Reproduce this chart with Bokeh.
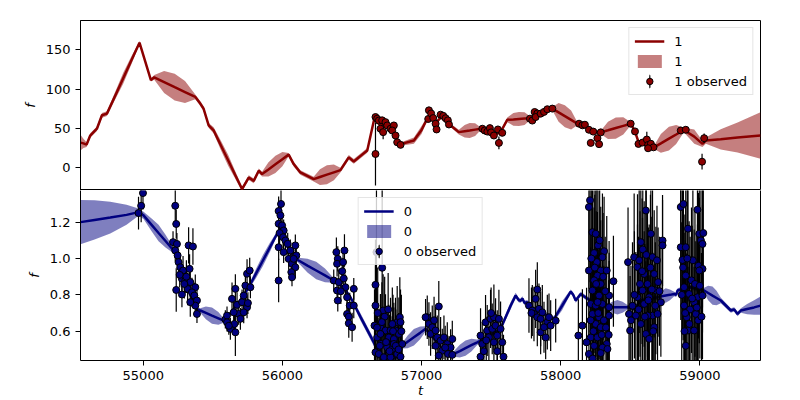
import numpy as np
from bokeh.plotting import figure
from bokeh.layouts import column
from bokeh.models import ColumnDataSource, FixedTicker, Legend, LegendItem, Range1d, LinearAxis
from bokeh.embed import file_html
from bokeh.resources import INLINE

# ---------------- data: series "1" (top panel) ----------------
pred1_t = [54549, 54570, 54593, 54619, 54667, 54703, 54739, 54800, 54856, 54915, 54973,
           55055, 55079, 55150, 55226, 55300, 55374, 55410, 55434, 55470, 55506,
           55560, 55610, 55660, 55710, 55758, 55794, 55830, 55854, 55900, 55950, 56000,
           56045, 56081, 56129, 56225, 56270, 56320, 56370, 56417, 56477, 56513, 56573,
           56610, 56660, 56700, 56740, 56780, 56813, 56849, 56945, 57000, 57041, 57070,
           57101, 57140, 57180, 57209, 57268, 57310, 57346, 57385, 57424, 57470, 57520,
           57568, 57616, 57660, 57700, 57740, 57784, 57830, 57880, 57940, 57985, 58030,
           58075, 58120, 58180, 58240, 58288, 58340, 58396, 58450, 58504, 58534, 58559,
           58600, 58640, 58671, 58720, 58778, 58830, 58885, 58960, 59019, 59043, 59150,
           59271, 59436]
pred1_f = [32, 31, 29.5, 41, 49.6, 66.7, 68.8, 92.3, 113.9, 136.6, 159,
           111.5, 115, 109, 102.5, 96.3, 90, 81.6, 75, 54, 47.4,
           27.7, 9.5, -8.8, -27, -12.4, -16.7, -3.8, -8, -2.1, 4.4, 10.9,
           16.7, 4.7, -6, -14.5, -11.8, -8.8, -5.8, -3, 13.2, 8, 16.7,
           22, 62, 55, 54, 48, 40, 30, 34.6, 48, 62.4, 68,
           57, 64, 60, 53.8, 45.3, 46.5, 47.4, 48.5, 49.6, 46, 42,
           45.3, 61, 61.5, 62, 62.5, 63, 68, 72, 75.2, 70.4, 65.6,
           60.8, 56, 52, 45.3, 45, 47.6, 50.5, 53.3, 56, 46, 33,
           31, 29, 26, 31, 37, 42.3, 48, 39.6, 30.3, 34.6, 36.1,
           38.4, 41]
pred1_s = [10, 6, 3, 3, 3, 3, 3, 5, 7, 5, 2,
           2, 3, 14, 17, 14, 3, 3, 3, 3, 4,
           6, 7, 5, 3, 3, 3, 3, 3, 9, 11, 9,
           2, 3, 3, 3, 10, 12, 10, 3, 3, 3, 3,
           3, 2, 2, 2, 2, 2, 2, 4, 5, 2, 2,
           2, 2, 2, 2, 3, 8, 9.5, 8, 2, 2, 2,
           2, 3, 8, 9, 8, 2, 2, 2, 2, 12, 14,
           12, 2, 2, 2, 2, 11, 13.5, 11, 2, 2, 2,
           2, 2, 2, 12, 15, 12, 3, 9, 4, 4, 13,
           19, 29.5]

obs1_t = [56669, 56669, 56681, 56693, 56717, 56705, 56724, 56741, 56753, 56777, 56801, 56789, 56813, 56825, 56849,
          57048, 57053, 57069, 57084, 57101, 57108, 57137, 57156, 57173, 57189, 57197,
          57437, 57454, 57473, 57491, 57500, 57520, 57549, 57556, 57580,
          57779, 57796, 57813, 57832, 57820, 57856, 57880, 57904, 57940,
          58132, 58156, 58174, 58203, 58234, 58264, 58288, 58216, 58276,
          58503, 58534, 58559, 58588, 58619, 58628, 58648, 58667, 58628,
          58863, 58899, 59031, 59016]
obs1_f = [64.5, 17.5, 62.4, 60, 60.3, 49.6, 45.3, 58, 53.8, 49.6, 53.8, 47.4, 41, 32.4, 29.1,
          62, 73, 69, 63.2, 56, 48.7, 67.5, 66, 63, 60.3, 55,
          49.6, 47.4, 46, 50.4, 45, 41, 48.7, 31.6, 44.4,
          62.4, 60, 70.9, 69, 64.5, 68.8, 71, 74.4, 75.2,
          56, 54, 54.7, 48.3, 46, 37.6, 45, 31.6, 30,
          56, 46.2, 30.3, 32, 35.9, 29, 30.5, 26, 24.8,
          47.4, 48.3, 37.6, 7.7]
obs1_e = [3, 40, 3, 3, 3, 4, 9, 3, 3, 3, 3, 3, 3, 3, 3,
          3, 3, 3, 3, 3, 3, 3, 3, 3, 3, 3,
          3, 3, 3, 3, 3, 3, 3, 8, 3,
          3, 3, 3, 3, 3, 3, 3, 3, 3,
          3, 3, 3, 3, 3, 3, 3, 3, 3,
          3, 3, 3, 3, 10, 3, 3, 3, 3,
          3, 3, 6, 10]

# ---------------- data: series "0" (bottom panel) ----------------
pred0_t = [54549, 54650, 54763, 54880, 54966, 55002, 55060, 55110, 55160, 55218, 55242,
           55290, 55340, 55386, 55410, 55450, 55494, 55540, 55578, 55602, 55680, 55758,
           55810, 55860, 55910, 55962, 56000, 56040, 56081, 56117, 56180, 56243, 56306,
           56369, 56440, 56489, 56560, 56657, 56700, 56760, 56820, 56861, 56900, 56945,
           56990, 57029, 57080, 57130, 57180, 57232, 57275, 57316, 57358, 57400, 57480,
           57568, 57640, 57676, 57700, 57712, 57725, 57740, 57760, 57784, 57870, 57952,
           58010, 58072, 58090, 58108, 58144, 58190, 58240, 58290, 58336, 58370, 58408,
           58445, 58480, 58528, 58576, 58650, 58696, 58725, 58755, 58785, 58816, 58830,
           58840, 58900, 58935, 58990, 59031, 59060, 59091, 59120, 59151, 59223, 59247,
           59271, 59295, 59340, 59390, 59436]
pred0_f = [1.20, 1.212, 1.225, 1.24, 1.255, 1.237, 1.185, 1.14, 1.096, 1.044, 1.03,
           0.93, 0.80, 0.723, 0.714, 0.701, 0.686, 0.671, 0.658, 0.677, 0.75, 0.842,
           0.917, 0.989, 1.061, 1.136, 1.12, 1.06, 1.007, 0.989, 0.961, 0.934, 0.907,
           0.879, 0.84, 0.787, 0.68, 0.539, 0.46, 0.43, 0.46, 0.52, 0.542, 0.567,
           0.591, 0.613, 0.57, 0.52, 0.48, 0.475, 0.491, 0.507, 0.523, 0.539, 0.57,
           0.613, 0.74, 0.796, 0.77, 0.768, 0.78, 0.755, 0.76, 0.732, 0.70, 0.668,
           0.74, 0.818, 0.80, 0.769, 0.805, 0.78, 0.759, 0.74, 0.732, 0.732, 0.732,
           0.732, 0.732, 0.723, 0.769, 0.78, 0.787, 0.792, 0.797, 0.80, 0.805, 0.80,
           0.824, 0.84, 0.842, 0.83, 0.824, 0.81, 0.796, 0.783, 0.769, 0.714, 0.72,
           0.695, 0.714, 0.722, 0.731, 0.741]
pred0_s = [0.122, 0.108, 0.087, 0.055, 0.02, 0.02, 0.035, 0.045, 0.035, 0.015, 0.012,
           0.01, 0.01, 0.01, 0.012, 0.035, 0.045, 0.035, 0.012, 0.01, 0.012, 0.012,
           0.025, 0.03, 0.025, 0.012, 0.012, 0.012, 0.01, 0.015, 0.038, 0.048, 0.038,
           0.012, 0.01, 0.01, 0.02, 0.02, 0.02, 0.02, 0.02, 0.015, 0.035, 0.045,
           0.035, 0.015, 0.015, 0.015, 0.015, 0.015, 0.035, 0.042, 0.035, 0.015, 0.012,
           0.015, 0.02, 0.015, 0.012, 0.012, 0.012, 0.012, 0.012, 0.012, 0.012, 0.015,
           0.025, 0.012, 0.012, 0.012, 0.012, 0.012, 0.012, 0.012, 0.015, 0.03, 0.04,
           0.03, 0.012, 0.012, 0.012, 0.012, 0.015, 0.03, 0.04, 0.03, 0.012, 0.012,
           0.012, 0.012, 0.012, 0.015, 0.015, 0.04, 0.05, 0.04, 0.015, 0.012, 0.012,
           0.012, 0.012, 0.028, 0.04, 0.05]

obs0_t = [54966, 54985, 54998,
          55214, 55230, 55237, 55242, 55230, 55247, 55254, 55266, 55286, 55237, 55278, 55326, 55357, 55333, 55302, 55319, 55278, 55338, 55374, 55350, 55367, 55386, 55374, 55386, 55338, 55262, 55295, 55310,
          55590, 55602, 55602, 55626, 55662, 55638, 55662, 55674, 55686, 55710, 55722, 55734, 55746, 55765, 55746, 55752, 55722, 55698, 55650, 55770, 55655, 55615,
          55973, 55986, 55973, 55998, 56009, 55980, 56005, 56022, 56038, 55973, 56009, 56057, 56045, 56069, 56093, 56100, 56093, 56064, 56069, 55973, 56081, 55990,
          56388, 56446, 56398, 56393, 56436, 56369, 56405, 56441, 56393, 56453, 56513, 56398, 56465, 56484, 56513, 56465, 56477, 56477, 56501, 56420, 56430,
          56676, 56717, 56669, 56669, 56724, 56662, 56705, 56741, 56777, 56681, 56765, 56801, 56825, 56844, 56849, 56813, 56837, 56861, 56710, 56753, 56789, 56669, 56693, 56825, 56729, 56777, 56849, 56801, 56705, 56735, 56790, 56760,
          56685, 56700, 56715, 56745, 56770, 56795, 56815, 56835, 56855, 56680,
          57041, 57124, 57053, 57077, 57065, 57101, 57113, 57137, 57101, 57161, 57185, 57209, 57149, 57124, 57190, 57221, 57029, 57221, 57090, 57170,
          57424, 57436, 57424, 57460, 57472, 57496, 57508, 57520, 57532, 57544, 57556, 57568, 57580, 57589, 57484, 57520, 57544, 57448, 57500, 57465,
          57772, 57796, 57820, 57832, 57808, 57832, 57856, 57844, 57868, 57856, 57892, 57904, 57928, 57964, 57916, 57880, 57790,
          58211, 58203, 58228, 58252, 58268, 58240, 58312, 58203, 58288, 58331, 58264, 58240, 58288, 58379, 58228, 58276, 58348, 58216, 58252, 58300, 58348, 58228, 58276, 58348, 58156, 58252, 58288, 58127, 58216, 58264, 58331, 58186, 58240, 58300, 58203, 58288, 58336, 58300, 58320, 58260, 58235, 58310,
          58220, 58245, 58270, 58295, 58325, 58215, 58255, 58280, 58230, 58345, 58265, 58305,
          58484, 58528, 58491, 58499, 58516, 58540, 58552, 58564, 58576, 58612, 58588, 58600, 58624, 58636, 58648, 58660, 58672, 58684, 58576, 58612, 58636, 58672, 58660, 58696, 58720, 58732, 58732, 58692, 58624, 58552, 58600, 58645, 58590, 58700,
          58505, 58530, 58560, 58585, 58605, 58615, 58630, 58655, 58665, 58680, 58710, 58570,
          58863, 58882, 58983, 58915, 58863, 58899, 58875, 58996, 59008, 59019, 58950, 58990, 59019, 58996, 58899, 58887, 58923, 58983, 59019, 58887, 58959, 58906, 58971, 58915, 58959, 58899, 58988, 58940, 58930,
          58870, 58880, 58895, 58910, 58925, 58945, 58965, 58978, 59000, 59012, 58890, 59025]
obs0_f = [1.25, 1.29, 1.36,
          1.09, 1.29, 1.19, 1.08, 1.044, 1.017, 0.98, 0.952, 0.934, 0.827, 0.888, 1.072, 1.066, 0.943, 0.879, 0.833, 0.802, 0.87, 0.842, 0.814, 0.796, 0.769, 0.741, 0.695, 0.76, 0.91, 0.86, 0.90,
          0.665, 0.686, 0.649, 0.613, 0.594, 0.778, 0.833, 0.745, 0.695, 0.76, 0.796, 0.851, 0.916, 0.934, 0.732, 0.755, 0.704, 0.668, 0.704, 0.842, 0.64, 0.63,
          1.261, 1.237, 1.191, 1.182, 1.154, 1.14, 1.117, 1.099, 1.081, 1.062, 1.035, 1.044, 0.998, 0.971, 1.072, 1.017, 0.952, 0.925, 0.897, 0.879, 0.998, 1.30,
          1.035, 1.044, 0.998, 0.971, 0.98, 0.879, 0.87, 0.89, 0.824, 0.842, 0.833, 0.769, 0.787, 0.741, 0.741, 0.695, 0.68, 0.644, 0.622, 0.82, 0.93,
          1.035, 0.949, 0.855, 0.741, 0.714, 0.631, 0.622, 0.604, 0.604, 0.566, 0.566, 0.557, 0.649, 0.677, 0.65, 0.604, 0.585, 0.53, 0.53, 0.511, 0.502, 0.484, 0.475, 0.475, 0.457, 0.457, 0.46, 0.53, 0.585, 0.68, 0.64, 0.72,
          0.70, 0.52, 0.65, 0.54, 0.49, 0.60, 0.52, 0.50, 0.60, 0.62,
          0.677, 0.736, 0.64, 0.622, 0.585, 0.604, 0.566, 0.548, 0.52, 0.566, 0.53, 0.511, 0.493, 0.466, 0.475, 0.47, 0.677, 0.557, 0.66, 0.51,
          0.576, 0.53, 0.46, 0.649, 0.604, 0.668, 0.613, 0.677, 0.631, 0.576, 0.668, 0.613, 0.539, 0.46, 0.567, 0.539, 0.49, 0.49, 0.70, 0.55,
          0.741, 0.714, 0.778, 0.829, 0.695, 0.677, 0.668, 0.723, 0.704, 0.594, 0.566, 0.65, 0.631, 0.658, 0.677, 0.622, 0.70,
          1.32, 1.283, 1.145, 1.136, 1.072, 1.03, 1.04, 0.934, 0.934, 0.934, 0.906, 0.88, 0.86, 0.875, 0.824, 0.796, 0.796, 0.75, 0.741, 0.75, 0.732, 0.695, 0.677, 0.686, 0.631, 0.64, 0.622, 0.576, 0.566, 0.566, 0.53, 0.539, 0.52, 0.51, 0.475, 0.48, 0.502, 1.007, 0.82, 0.98, 0.60, 0.66,
          1.00, 0.95, 0.70, 0.58, 0.62, 0.66, 0.86, 1.10, 0.45, 0.58, 0.76, 0.90,
          0.98, 1.007, 0.695, 0.604, 0.74, 0.686, 0.953, 0.99, 1.09, 1.264, 0.824, 0.915, 0.86, 0.787, 1.136, 1.008, 0.915, 0.824, 0.64, 0.585, 0.558, 0.622, 0.686, 0.695, 0.759, 1.099, 1.072, 0.99, 0.686, 0.787, 0.75, 0.95, 1.05, 0.87,
          0.66, 0.80, 0.72, 0.93, 0.68, 1.02, 0.77, 0.83, 0.60, 0.74, 0.82, 0.86,
          1.283, 1.30, 1.268, 1.164, 1.062, 1.062, 0.992, 1.136, 1.099, 1.08, 0.99, 0.96, 0.943, 0.934, 0.906, 0.842, 0.805, 0.787, 0.796, 0.741, 0.759, 0.677, 0.695, 0.604, 0.604, 0.52, 0.66, 0.88, 0.72,
          0.80, 0.95, 0.70, 1.00, 0.64, 0.78, 0.86, 0.73, 0.85, 0.68, 0.60, 1.14]
obs0_e = [0.09, 0.09, 0.09,
          0.06, 0.10, 0.08, 0.06, 0.06, 0.07, 0.06, 0.07, 0.08, 0.12, 0.08, 0.10, 0.10, 0.08, 0.07, 0.09, 0.07, 0.08, 0.07, 0.08, 0.07, 0.06, 0.06, 0.05, 0.08, 0.07, 0.08, 0.09,
          0.05, 0.05, 0.05, 0.06, 0.13, 0.09, 0.08, 0.07, 0.06, 0.07, 0.07, 0.08, 0.08, 0.07, 0.06, 0.06, 0.06, 0.06, 0.06, 0.06, 0.06, 0.05,
          0.08, 0.07, 0.07, 0.06, 0.06, 0.06, 0.06, 0.06, 0.06, 0.07, 0.06, 0.06, 0.06, 0.06, 0.06, 0.06, 0.06, 0.05, 0.05, 0.12, 0.06, 0.10,
          0.08, 0.09, 0.07, 0.07, 0.07, 0.06, 0.07, 0.07, 0.07, 0.07, 0.06, 0.06, 0.07, 0.07, 0.07, 0.07, 0.07, 0.08, 0.08, 0.07, 0.07,
          0.40, 0.55, 0.25, 0.22, 0.20, 0.20, 0.18, 0.20, 0.18, 0.20, 0.18, 0.20, 0.20, 0.22, 0.18, 0.18, 0.20, 0.15, 0.18, 0.20, 0.18, 0.18, 0.20, 0.18, 0.18, 0.20, 0.16, 0.20, 0.22, 0.22, 0.20, 0.20,
          0.25, 0.20, 0.22, 0.20, 0.20, 0.20, 0.20, 0.20, 0.20, 0.22,
          0.12, 0.14, 0.12, 0.12, 0.12, 0.13, 0.12, 0.13, 0.12, 0.12, 0.12, 0.10, 0.12, 0.12, 0.10, 0.10, 0.10, 0.10, 0.13, 0.12,
          0.15, 0.12, 0.12, 0.15, 0.14, 0.16, 0.14, 0.18, 0.15, 0.14, 0.16, 0.15, 0.12, 0.12, 0.14, 0.14, 0.12, 0.12, 0.14, 0.13,
          0.15, 0.14, 0.16, 0.15, 0.15, 0.16, 0.15, 0.14, 0.15, 0.12, 0.12, 0.15, 0.14, 0.12, 0.13, 0.14, 0.14,
          0.45, 0.45, 0.40, 0.40, 0.40, 0.38, 0.30, 0.40, 0.35, 0.30, 0.35, 0.40, 0.35, 0.25, 0.35, 0.35, 0.30, 0.40, 0.35, 0.35, 0.30, 0.35, 0.35, 0.30, 0.20, 0.35, 0.30, 0.20, 0.35, 0.35, 0.30, 0.30, 0.35, 0.30, 0.30, 0.30, 0.25, 0.35, 0.30, 0.40, 0.35, 0.30,
          0.40, 0.40, 0.35, 0.30, 0.30, 0.40, 0.40, 0.40, 0.30, 0.30, 0.35, 0.35,
          0.30, 0.35, 0.30, 0.30, 0.35, 0.35, 0.40, 0.40, 0.45, 0.45, 0.40, 0.40, 0.40, 0.40, 0.40, 0.40, 0.35, 0.35, 0.40, 0.40, 0.35, 0.35, 0.35, 0.30, 0.30, 0.25, 0.25, 0.30, 0.40, 0.40, 0.40, 0.40, 0.40, 0.30,
          0.30, 0.35, 0.40, 0.40, 0.40, 0.45, 0.40, 0.40, 0.35, 0.35, 0.30, 0.40,
          0.45, 0.45, 0.45, 0.40, 0.40, 0.40, 0.40, 0.40, 0.40, 0.35, 0.40, 0.40, 0.35, 0.40, 0.40, 0.40, 0.40, 0.40, 0.35, 0.40, 0.40, 0.35, 0.40, 0.35, 0.35, 0.30, 0.35, 0.40, 0.40,
          0.40, 0.40, 0.40, 0.40, 0.35, 0.40, 0.40, 0.40, 0.40, 0.35, 0.35, 0.35]

x_ticks = [55000, 56000, 57000, 58000, 59000]
x_tick_labels = ["55000", "56000", "57000", "58000", "59000"]
top_y_ticks = [0, 50, 100, 150]
top_y_tick_labels = ["0", "50", "100", "150"]
bot_y_ticks = [0.6, 0.8, 1.0, 1.2]
bot_y_tick_labels = ["0.6", "0.8", "1.0", "1.2"]

# ---------------- styling ----------------
FONT = "DejaVu Sans"
RED = "#8b0000"
NAVY = "#000080"


def band_source(t, f, s):
    return ColumnDataSource(dict(t=t, f=f,
                                 lo=[a - b for a, b in zip(f, s)],
                                 hi=[a + b for a, b in zip(f, s)]))


def obs_source(t, f, e):
    return ColumnDataSource(dict(t=t, f=f,
                                 lo=[a - b for a, b in zip(f, e)],
                                 hi=[a + b for a, b in zip(f, e)]))


def style_axis(ax, ticks, labels):
    ax.ticker = FixedTicker(ticks=ticks)
    ax.major_label_overrides = {k: v for k, v in zip(ticks, labels)}
    ax.major_label_text_font = FONT
    ax.major_label_text_font_size = "13px"
    ax.major_label_text_color = "black"
    ax.major_label_standoff = 5
    ax.major_tick_out = 5
    ax.major_tick_in = 0
    ax.minor_tick_out = 0
    ax.minor_tick_in = 0
    ax.axis_line_color = "black"
    ax.major_tick_line_color = "black"
    ax.axis_label_text_font = FONT
    ax.axis_label_text_font_size = "13px"
    ax.axis_label_text_font_style = "italic"
    ax.axis_label_text_color = "black"


def style_fig(p):
    p.grid.visible = False
    p.outline_line_color = "black"
    p.outline_line_alpha = 1.0
    p.outline_line_width = 1
    p.background_fill_color = "white"
    p.border_fill_color = "white"


def draw_panel(p, pred, obs, color, name):
    b = p.varea(x="t", y1="lo", y2="hi", source=pred, fill_color=color, fill_alpha=0.5)
    ln = p.line(x="t", y="f", source=pred, line_color=color, line_width=2.5)
    p.segment(x0="t", y0="lo", x1="t", y1="hi", source=obs, line_color="black", line_width=1.2)
    bar = p.ellipse(x="t", y="f", width=0.02, height=1, width_units="screen", height_units="screen",
                    source=obs, fill_alpha=0, line_color="black", line_width=1.2)
    pts = p.scatter(x="t", y="f", source=obs, size=7, fill_color=color, line_color="black", line_width=1)
    items = [LegendItem(label=name, renderers=[ln]),
             LegendItem(label=name, renderers=[b]),
             LegendItem(label=name + " observed", renderers=[bar, pts])]
    return items


def make_legend(items, loc):
    lg = Legend(items=items, location=loc, margin=7, padding=5, spacing=4,
                glyph_width=30, glyph_height=16, label_height=16, label_standoff=10,
                label_text_font=FONT, label_text_font_size="13px", label_text_color="black",
                border_line_color="#cccccc", border_line_width=1,
                background_fill_color="white", background_fill_alpha=0.8)
    return lg


xr = Range1d(54549, 59436)

top = figure(width=800, height=190, x_range=xr, y_range=Range1d(-28.9, 187.2),
             x_axis_location=None, output_backend="svg", toolbar_location=None,
             min_border_left=80, min_border_right=40, min_border_top=20, min_border_bottom=0)
style_fig(top)
style_axis(top.yaxis[0], top_y_ticks, top_y_tick_labels)
top.yaxis.axis_label = "f"
items1 = draw_panel(top, band_source(pred1_t, pred1_f, pred1_s),
                    obs_source(obs1_t, obs1_f, obs1_e), RED, "1")
top.add_layout(make_legend(items1, "top_right"))

bot = figure(width=800, height=210, x_range=xr, y_range=Range1d(0.439, 1.374),
             output_backend="svg", toolbar_location=None,
             min_border_left=80, min_border_right=40, min_border_top=0, min_border_bottom=0)
style_fig(bot)
# the top edge of this panel is the top panel's outline; draw the other edges with axes
bot.outline_line_color = None
style_axis(bot.yaxis[0], bot_y_ticks, bot_y_tick_labels)
style_axis(bot.xaxis[0], x_ticks, x_tick_labels)
bot.xaxis.axis_label_standoff = 0
bot.yaxis.axis_label = "f"
bot.xaxis.axis_label = "t"
right_edge = LinearAxis(ticker=FixedTicker(ticks=[]), major_tick_out=0, major_tick_in=0,
                        minor_tick_out=0, minor_tick_in=0, major_label_text_font_size="0px",
                        axis_line_color="black", axis_line_width=1)
bot.add_layout(right_edge, "right")
items0 = draw_panel(bot, band_source(pred0_t, pred0_f, pred0_s),
                    obs_source(obs0_t, obs0_f, obs0_e), NAVY, "0")
bot.add_layout(make_legend(items0, "top_center"))

layout = column(top, bot, spacing=0)
open("out.html", "w").write(file_html(layout, INLINE))
